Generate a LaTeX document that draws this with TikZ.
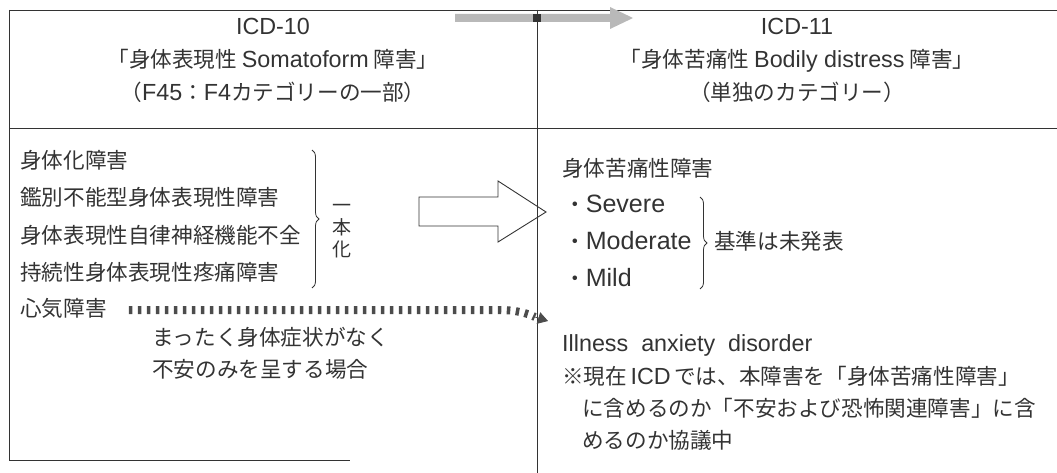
\documentclass[tikz,border=0pt]{standalone}
\usepackage{fontspec}
\setmainfont{Noto Sans CJK JP}
\newfontfamily\latf[Scale=1.08]{Liberation Sans}
\newfontfamily\latb[Scale=1.16]{Liberation Sans}
\newcommand{\Lt}[1]{{\latf #1}}
\newcommand{\Lb}[1]{{\latb #1}}
\usetikzlibrary{arrows.meta,decorations.pathreplacing,calc}
\begin{document}
\begin{tikzpicture}[x=1pt,y=-1pt,
  txt/.style={font=\fontsize{21.6}{26}\selectfont, text=black!80, inner sep=0pt, text height=16pt, text depth=4pt},
  vtxt/.style={txt, font=\fontsize{19}{22}\selectfont},
  frame/.style={draw=black!80, line width=0.9pt},
  bracestyle/.style={draw=black!80, line width=0.8pt, decorate, decoration={brace, amplitude=7pt}},
  bigarrow/.style={draw=black!80, line width=0.9pt},
  greyarrow/.style={fill=gray!55},
  dotline/.style={draw=black!70, line width=8pt, dash pattern=on 3.5pt off 5.5pt},
  dothead/.style={draw=black!70, fill=black!70, line width=0.8pt, -{Triangle[length=10pt,width=12pt]}}
]
\useasboundingbox (0,0) rectangle (1057,473);

% frame
\draw[frame] (9,10) -- (1057,10);
\draw[frame] (9,128) -- (1057,128);
\draw[frame] (9,10) -- (9,460) -- (350,460);
\draw[frame] (537,10) -- (537,473);

% top grey arrow
\fill[greyarrow] (455,14) -- (610,14) -- (610,7) -- (633,18) -- (610,29) -- (610,22) -- (455,22) -- cycle;
\fill[black!80] (533,14) rectangle (541,22);

% headers
\node[txt] (h10a) at (273,29) {\Lt{ICD-10}};
\node[txt] (h10b) at (273,62) {「身体表現性 \Lt{Somatoform} 障害」};
\node[txt] (h10c) at (273,95) {（\Lt{F45}：\Lt{F4}カテゴリーの一部）};
\node[txt] (h11a) at (797,29) {\Lt{ICD-11}};
\node[txt] (h11b) at (797,62) {「身体苦痛性 \Lt{Bodily distress} 障害」};
\node[txt] (h11c) at (797,95) {（単独のカテゴリー）};

% left body
\node[txt, anchor=west] (l1) at (20,163) {身体化障害};
\node[txt, anchor=west] (l2) at (20,200) {鑑別不能型身体表現性障害};
\node[txt, anchor=west] (l3) at (20,237) {身体表現性自律神経機能不全};
\node[txt, anchor=west] (l4) at (20,274) {持続性身体表現性疼痛障害};
\node[txt, anchor=west] (hk) at (20,310) {心気障害};
\node[txt, anchor=west] (m1) at (152,339) {まったく身体症状がなく};
\node[txt, anchor=west] (m2) at (152,371) {不安のみを呈する場合};

\draw[bracestyle] (312,150) -- (312,288);
\node[vtxt] (v1) at (342,206) {一};
\node[vtxt] (v2) at (342,228) {本};
\node[vtxt] (v3) at (342,250) {化};

% open arrow
\draw[bigarrow] (419,197) -- (498,197) -- (498,181) -- (546,212) -- (498,242) -- (498,226) -- (419,226) -- cycle;

% right body
\node[txt, anchor=west] (r0) at (562,171) {身体苦痛性障害};
\node[txt, anchor=west] (r1) at (564,206) {・\Lb{Severe}};
\node[txt, anchor=west] (r2) at (564,243) {・\Lb{Moderate}};
\node[txt, anchor=west] (r3) at (564,280) {・\Lb{Mild}};
\draw[bracestyle] (700,197) -- (700,289);
\node[txt, anchor=west] (kj) at (714,243) {基準は未発表};

\node[txt, anchor=west] (ia) at (562,345) {\Lt{Illness\ \ anxiety\ \ disorder}};
\node[txt, anchor=west] (n1) at (562,378) {※現在\,\Lt{ICD}\,では、本障害を「身体苦痛性障害」};
\node[txt, anchor=west] (n2) at (582,410) {に含めるのか「不安および恐怖関連障害」に含};
\node[txt, anchor=west] (n3) at (582,442) {めるのか協議中};

% dotted connector
\coordinate (d0) at ($(hk.east)+(22,0)$);
\coordinate (d1) at (535,317);
\coordinate (d2) at (548,321);
\draw[dotline] (d0) -- (500,310) .. controls (515,310) and (527,313) .. (d1);
\draw[dothead] (d1) -- (d2);
\end{tikzpicture}
\end{document}
